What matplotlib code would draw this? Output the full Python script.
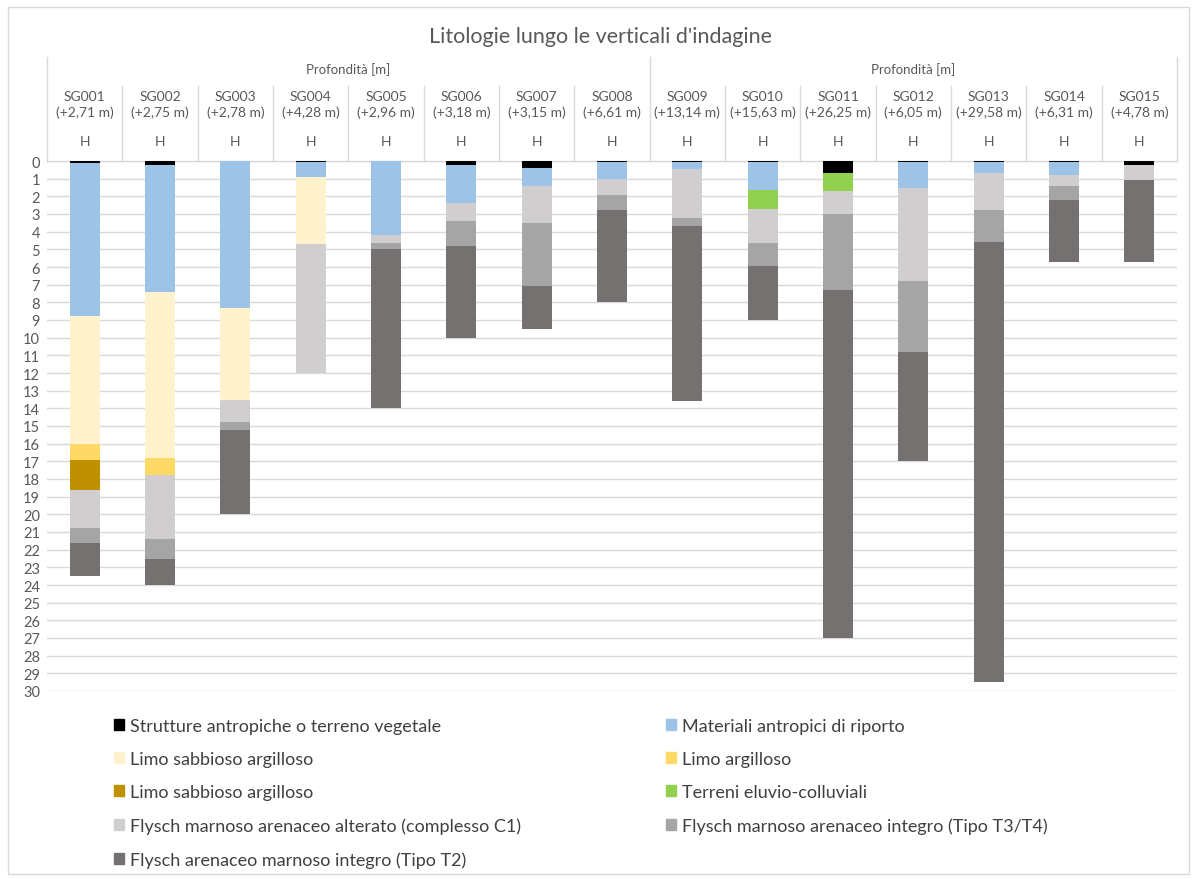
import matplotlib.pyplot as plt
import matplotlib.patches as mpatches
import numpy as np

plt.rcParams['font.family'] = ['Lato', 'DejaVu Sans']

################
# donnees
################
sondaggi = ["SG001", "SG002", "SG003", "SG004", "SG005", "SG006", "SG007", "SG008",
            "SG009", "SG010", "SG011", "SG012", "SG013", "SG014", "SG015"]
quote = ["+2,71 m", "+2,75 m", "+2,78 m", "+4,28 m", "+2,96 m", "+3,18 m", "+3,15 m", "+6,61 m",
         "+13,14 m", "+15,63 m", "+26,25 m", "+6,05 m", "+29,58 m", "+6,31 m", "+4,78 m"]

litologie = ["Strutture antropiche o terreno vegetale",
             "Materiali antropici di riporto",
             "Limo sabbioso argilloso",
             "Limo argilloso",
             "Limo sabbioso argilloso",
             "Terreni eluvio-colluviali",
             "Flysch marnoso arenaceo alterato (complesso C1)",
             "Flysch marnoso arenaceo integro (Tipo T3/T4)",
             "Flysch arenaceo marnoso integro (Tipo T2)"]
colori = ["#000000", "#9DC3E6", "#FFF2CC", "#FFD966", "#BF9000",
          "#92D050", "#D0CECE", "#A5A5A5", "#767171"]

# spessori [m] per litologia, un valore per sondaggio
strutture = [0.1, 0.2, 0.0, 0.05, 0.0, 0.2, 0.4, 0.05, 0.05, 0.05, 0.7, 0.05, 0.05, 0.05, 0.2]
riporto   = [8.7, 7.2, 8.3, 0.85, 4.2, 2.2, 1.0, 0.95, 0.4, 1.6, 0.0, 1.45, 0.65, 0.75, 0.0]
limo_sa   = [7.2, 9.4, 5.2, 3.8, 0, 0, 0, 0, 0, 0, 0, 0, 0, 0, 0]
limo_arg  = [0.9, 1.0, 0, 0, 0, 0, 0, 0, 0, 0, 0, 0, 0, 0, 0]
limo_sa2  = [1.7, 0, 0, 0, 0, 0, 0, 0, 0, 0, 0, 0, 0, 0, 0]
eluvio    = [0, 0, 0, 0, 0, 0, 0, 0, 0, 1.05, 1.0, 0, 0, 0, 0]
flysch_c1 = [2.2, 3.6, 1.3, 7.3, 0.45, 1.0, 2.1, 0.9, 2.75, 1.95, 1.3, 5.3, 2.1, 0.62, 0.9]
flysch_t3 = [0.8, 1.1, 0.4, 0, 0.35, 1.4, 3.6, 0.9, 0.5, 1.3, 4.3, 4.0, 1.8, 0.8, 0]
flysch_t2 = [1.9, 1.5, 4.8, 0, 9.0, 5.2, 2.4, 5.2, 9.9, 3.05, 19.7, 6.2, 24.9, 3.5, 4.6]

serie = [strutture, riporto, limo_sa, limo_arg, limo_sa2, eluvio, flysch_c1, flysch_t3, flysch_t2]

################
# figure
################
fig = plt.figure(figsize=(11.92, 8.79), dpi=100)
ax = fig.add_axes([47/1192, 1-692/879, 1130/1192, 530/879])

x = np.arange(len(sondaggi))
base = np.zeros(len(sondaggi))
handles = []
for s, c, lab in zip(serie, colori, litologie):
    ax.bar(x, s, bottom=base, width=0.4, color=c, zorder=3)
    base += np.array(s)
    handles.append(mpatches.Patch(color=c, label=lab))

ax.set_xlim(-0.5, len(sondaggi) - 0.5)
ax.set_ylim(30, 0)
ax.set_yticks(range(0, 31))
ax.tick_params(axis='y', length=0, labelsize=10.5, colors="#595959", pad=5)
ax.set_xticks([])
ax.grid(axis='y', color="#D9D9D9", linewidth=1, zorder=0)
for sp in ax.spines.values():
    sp.set_visible(False)

##############################
# intestazione (categorie in alto)
##############################
tr = ax.get_xaxis_transform()
gris = "#D9D9D9"
ax.plot([-0.5, 14.5], [1, 1], transform=tr, color=gris, lw=1, clip_on=False)
for k in range(16):
    top = 1.196 if k in (0, 8, 15) else 1.1415
    ax.plot([k - 0.5, k - 0.5], [1, top], transform=tr, color=gris, lw=1, clip_on=False)
for xc in (3.5, 11.0):
    ax.text(xc, 1.174, "Profondità [m]", transform=tr, ha='center', va='center',
            fontsize=9.5, color="#595959")
for i in range(len(sondaggi)):
    ax.text(i, 1.1226, sondaggi[i], transform=tr, ha='center', va='center', fontsize=10, color="#595959")
    ax.text(i, 1.0925, "(" + quote[i] + ")", transform=tr, ha='center', va='center', fontsize=10, color="#595959")
    ax.text(i, 1.0377, "H", transform=tr, ha='center', va='center', fontsize=10, color="#595959")

#######
# titre
#######
fig.text(600/1192, 1-37/879, "Litologie lungo le verticali d'indagine", ha='center', va='center',
         fontsize=15.5, color="#595959")

# cadre
fig.add_artist(mpatches.Rectangle((8/1192, 4/879), 1181/1192, 867/879, transform=fig.transFigure,
                                  fill=False, edgecolor=gris, lw=1))

##########
# légendes
##########
col1 = [handles[i] for i in (0, 2, 4, 6, 8)]
col2 = [handles[i] for i in (1, 3, 5, 7)]
for hs, x0 in ((col1, 114/1192), (col2, 666/1192)):
    fig.legend(handles=hs, loc='upper left', bbox_to_anchor=(x0, 1-719/879), frameon=False,
               fontsize=13, labelcolor="#404040", handlelength=0.55, handleheight=0.55,
               handletextpad=0.35, labelspacing=0.95, borderpad=0, borderaxespad=0)

plt.savefig("out.png", dpi=100)
